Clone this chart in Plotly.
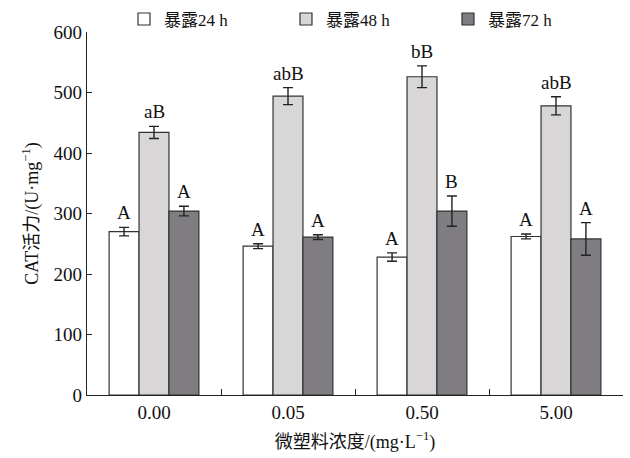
import plotly.graph_objects as go

categories = ["0.00", "0.05", "0.50", "5.00"]
series_names = ["暴露24 h", "暴露48 h", "暴露72 h"]
values_24h = [270, 246, 228, 262]
errors_24h = [7, 4, 7, 4]
values_48h = [434, 494, 526, 478]
errors_48h = [10, 14, 18, 15]
values_72h = [304, 261, 304, 258]
errors_72h = [8, 4, 25, 27]
labels_24h = ["A", "A", "A", "A"]
labels_48h = ["aB", "abB", "bB", "abB"]
labels_72h = ["A", "A", "B", "A"]

colors = ["#ffffff", "#d8d6d7", "#7f7d82"]
font_family = "Liberation Serif, Times New Roman, Noto Sans CJK SC, serif"

values = [values_24h, values_48h, values_72h]
errors = [errors_24h, errors_48h, errors_72h]
labels = [labels_24h, labels_48h, labels_72h]

fig = go.Figure()
for name, v, e, c in zip(series_names, values, errors, colors):
    fig.add_trace(go.Bar(
        x=categories, y=v, name=name,
        marker=dict(color=c, line=dict(color="#333333", width=1.2)),
        error_y=dict(type="data", array=e, visible=True, color="#222222",
                     thickness=1.4, width=5),
    ))

W, H = 630, 458
margin = dict(l=87, r=7, t=32, b=63, autoexpand=False)
plot_w = W - margin["l"] - margin["r"]
bargap = 0.33
cat_px = plot_w / len(categories)
bar_px = cat_px * (1 - bargap) / 3

for j in range(3):
    for i, cat in enumerate(categories):
        fig.add_annotation(
            x=i, y=values[j][i] + errors[j][i], text=labels[j][i],
            showarrow=False, xref="x", yref="y", yanchor="bottom",
            xshift=(j - 1) * bar_px, yshift=2,
            font=dict(family=font_family, size=19, color="#111111"),
        )

fig.update_layout(
    width=W, height=H, margin=margin,
    paper_bgcolor="white", plot_bgcolor="white",
    barmode="group", bargap=bargap, bargroupgap=0,
    font=dict(family=font_family, size=18, color="#111111"),
    showlegend=True,
    legend=dict(orientation="h", x=0.069, xanchor="left", y=0.985, yanchor="bottom",
                font=dict(family=font_family, size=17), itemwidth=30,
                entrywidth=117, entrywidthmode="pixels",
                traceorder="normal", bgcolor="rgba(0,0,0,0)"),
)
fig.update_xaxes(
    type="category", range=[-0.5, len(categories) - 0.5], automargin=False,
    showline=True, linecolor="#222222", linewidth=1.2,
    ticks="inside", tickson="boundaries", ticklen=6, tickcolor="#222222",
    tickwidth=1.2, showgrid=False, zeroline=False,
    tickfont=dict(family=font_family, size=19),
    title=dict(text="微塑料浓度/(mg·L<sup>−1</sup>)", standoff=13,
               font=dict(family=font_family, size=18)),
)
fig.update_yaxes(
    range=[0, 600], dtick=100, automargin=False,
    showline=True, linecolor="#222222", linewidth=1.2,
    ticks="inside", ticklen=5, tickcolor="#222222", tickwidth=1.2,
    showgrid=False, zeroline=False,
    tickfont=dict(family=font_family, size=19),
    title=dict(text="CAT活力/(U·mg<sup>−1</sup>)", standoff=10,
               font=dict(family=font_family, size=18)),
)

fig.write_html("out.html", config={"displayModeBar": False},
               post_script="document.body.style.margin='0';document.body.style.padding='0';")
